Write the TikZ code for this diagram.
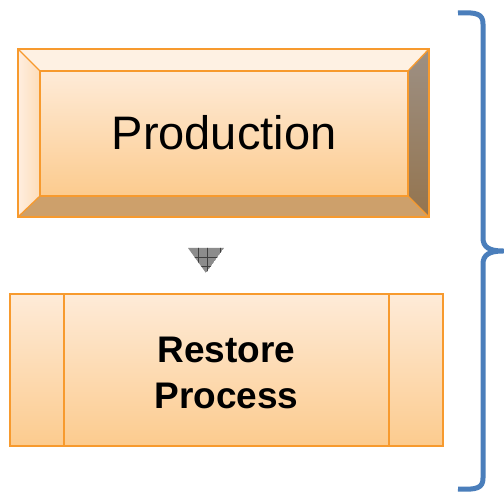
\documentclass[tikz,border=0pt]{standalone}
\usepackage{fontspec}
\setmainfont{Liberation Sans}
\definecolor{edgeorange}{HTML}{F79A2E}
\definecolor{facetop}{HTML}{FEEBD8}
\definecolor{facebot}{HTML}{FCCB8E}
\definecolor{bevtop}{HTML}{FEF1E3}
\definecolor{bevleftA}{HTML}{FFEEDF}
\definecolor{bevleftB}{HTML}{FDDDBA}
\definecolor{bevrightA}{HTML}{9D9084}
\definecolor{bevrightB}{HTML}{94744E}
\definecolor{bevbot}{HTML}{CDA06B}
\definecolor{bracecol}{HTML}{4A7EBB}
\definecolor{arrowgray}{HTML}{8C8C8C}
\tikzset{
  edge/.style={draw=edgeorange, line width=1.3pt, line join=miter},
  face/.style={top color=facetop, bottom color=facebot},
  bigtext/.style={font=\fontsize{47}{52}\selectfont, inner sep=0pt},
  boldtext/.style={font=\fontsize{37}{46}\selectfont\bfseries, align=center, inner sep=0pt},
}
\begin{document}
\begin{tikzpicture}[x=1pt, y=-1pt]
  \useasboundingbox (0,0) rectangle (504,492);
  \fill[white] (0,0) rectangle (504,492);

  % Production: bevelled block
  \coordinate (o1) at (18,49);  \coordinate (o2) at (429,49);
  \coordinate (o3) at (429,217); \coordinate (o4) at (18,217);
  \coordinate (i1) at (40,71);  \coordinate (i2) at (408,71);
  \coordinate (i3) at (408,196); \coordinate (i4) at (40,196);
  \fill[bevtop] (o1) -- (o2) -- (i2) -- (i1) -- cycle;
  \shade[left color=bevleftA, right color=bevleftB] (o1) -- (i1) -- (i4) -- (o4) -- cycle;
  \shade[top color=bevrightA, bottom color=bevrightB] (o2) -- (o3) -- (i3) -- (i2) -- cycle;
  \fill[bevbot] (o4) -- (i4) -- (i3) -- (o3) -- cycle;
  \shade[face] (i1) rectangle (i3);
  \draw[edge] (o1) rectangle (o3);
  \draw[edge] (i1) rectangle (i3);
  \draw[edge] (o1) -- (i1) (o2) -- (i2) (o3) -- (i3) (o4) -- (i4);
  \node[bigtext, anchor=base] (prod) at (224,150) {Production};

  % small hatched down-pointer
  \coordinate (t1) at (188,248); \coordinate (t2) at (224,248); \coordinate (t3) at (206,273);
  \begin{scope}
    \clip (t1) -- (t2) -- (t3) -- cycle;
    \fill[arrowgray] (t1) -- (t2) -- (t3) -- cycle;
    \draw[black!75, line width=0.8pt]
      (198,246) -- (198,275) (207,246) -- (207,275) (220,246) -- (220,275)
      (186,257) -- (226,257) (186,266) -- (226,266);
  \end{scope}

  % Restore Process: predefined-process block
  \shade[face] (10,294) rectangle (443,446);
  \draw[edge] (10,294) rectangle (443,446);
  \draw[edge] (64,294) -- (64,446) (389,294) -- (389,446);
  \node[boldtext] (restore) at (226.5,373) {Restore\\Process};

  % right-hand brace
  \draw[bracecol, line width=5pt, line cap=butt, line join=round]
    (458,13) .. controls (477,12) and (483,14) .. (483,24)
    -- (483,238) .. controls (483,247) and (489,251) .. (503,251)
    .. controls (489,251) and (483,255) .. (483,264)
    -- (483,478) .. controls (483,488) and (477,490) .. (458,489);
\end{tikzpicture}
\end{document}
